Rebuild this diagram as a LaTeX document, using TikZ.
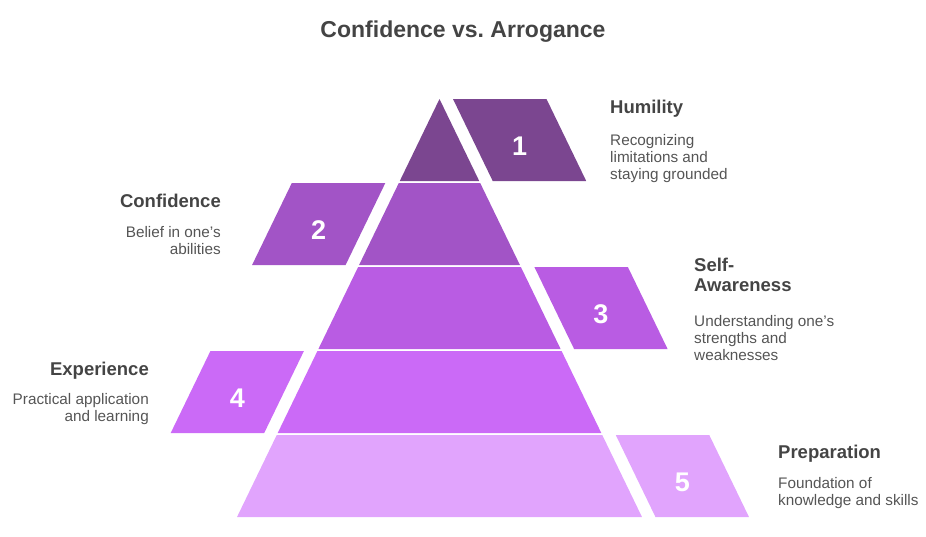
\documentclass[tikz,border=0pt]{standalone}
\usepackage{fontspec}
\setmainfont{Liberation Sans}
\frenchspacing
\definecolor{band1}{HTML}{7B4690}
\definecolor{band2}{HTML}{A254C6}
\definecolor{band3}{HTML}{B95CE3}
\definecolor{band4}{HTML}{CB6AF7}
\definecolor{band5}{HTML}{E1A4FD}
\definecolor{ink}{HTML}{444444}
\definecolor{inklight}{HTML}{555555}
\tikzset{
  titletext/.style={font=\fontsize{23}{28}\selectfont\bfseries,text=ink,inner sep=0pt},
  heading/.style={font=\fontsize{18.5}{20}\selectfont\bfseries,text=ink,inner sep=0pt},
  note/.style={font=\fontsize{15.3}{17}\selectfont,text=inklight,inner sep=0pt},
  digit/.style={font=\fontsize{27}{30}\selectfont\bfseries,text=white,inner sep=0pt}
}
\begin{document}
\begin{tikzpicture}[x=1pt,y=-1pt]
                \useasboundingbox (0,0) rectangle (926,536);
                \node[titletext] (title) at (463,32) {Confidence vs. Arrogance};
                % bands of the pyramid, each with its number box
                \foreach \k/\s/\c in {1/1/band1, 2/-1/band2, 3/1/band3, 4/-1/band4, 5/1/band5}{
                \pgfmathsetmacro\yt{99+84*(\k-1)}
                \pgfmathsetmacro\yb{\yt+82}
                \pgfmathsetmacro\wt{0.4844*(\yt-99)}
                \pgfmathsetmacro\wb{0.4844*(\yb-99)}
                \fill[\c] (439.5-\wt,\yt) -- (439.5+\wt,\yt) -- (439.5+\wb,\yb) -- (439.5-\wb,\yb) -- cycle;
                \pgfmathsetmacro\pt{439.5+\s*(\wt+13.5)}
                \pgfmathsetmacro\pb{439.5+\s*(\wb+13.5)}
                \pgfmathsetmacro\qt{\pt+\s*93.5}
                \pgfmathsetmacro\qb{\pb+\s*93.5}
                \pgfmathsetmacro\mx{(\pt+\qt+\pb+\qb)/4}
                \fill[\c] (\pt,\yt) -- (\qt,\yt) -- (\qb,\yb) -- (\pb,\yb) -- cycle;
                \node[digit] (n\k) at (\mx,\yt+47) {\k};
                }
                % headings (y is the baseline of the last line)
                \foreach \x/\y/\a/\al/\n/\t in {610/113/west/left/humility/Humility, 221/207/east/right/confidence/Confidence, 694/291.7/west/left/selfaware/{Self-\\Awareness}, 149/375.5/east/right/experience/Experience, 778/458.5/west/left/preparation/Preparation}
                \node[heading,anchor=base \a,align=\al] (\n) at (\x,\y) {\t};
                % descriptions
                \foreach \x/\y/\a/\al/\n/\t in {610/179.5/west/left/humilitynote/{Recognizing\\limitations and\\staying grounded}, 221/254.5/east/right/confidencenote/{Belief in one's\\abilities}, 694/360/west/left/selfawarenote/{Understanding one's\\strengths and\\weaknesses}, 149/421.5/east/right/experiencenote/{Practical application\\and learning}, 778/505/west/left/preparationnote/{Foundation of\\knowledge and skills}}
                \node[note,anchor=base \a,align=\al] (\n) at (\x,\y) {\t};
\end{tikzpicture}
\end{document}
